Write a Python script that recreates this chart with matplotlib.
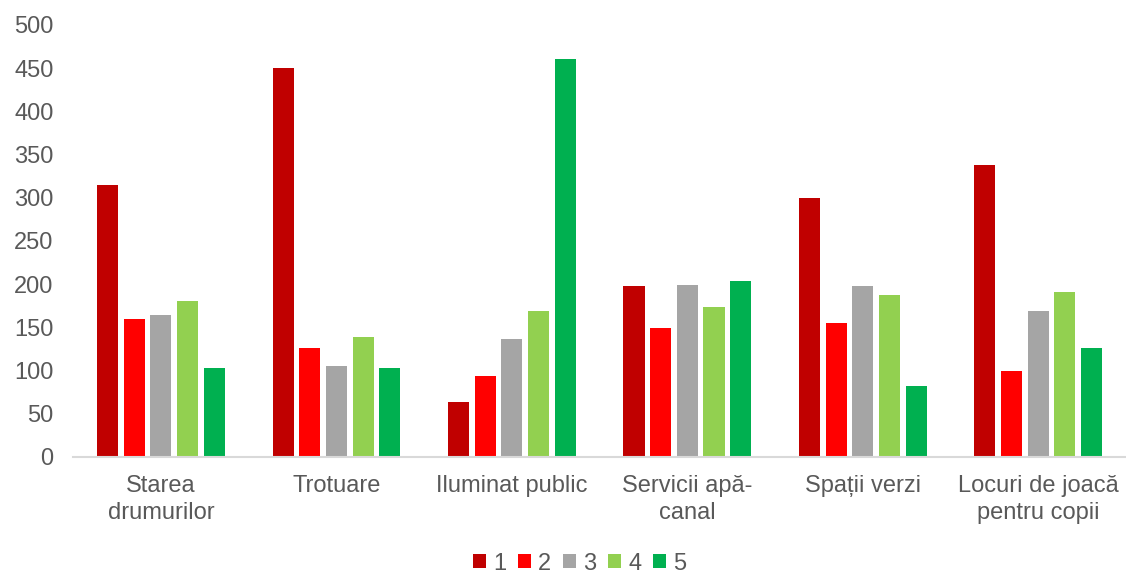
import matplotlib.pyplot as plt
import numpy as np

plt.rcParams['font.family'] = ['Liberation Sans', 'DejaVu Sans']

categories = ["Starea\ndrumurilor", "Trotuare", "Iluminat public",
              "Servicii apă-\ncanal", "Spații verzi", "Locuri de joacă\npentru copii"]
series_labels = ["1", "2", "3", "4", "5"]
s1 = [315, 450, 64, 198, 300, 338]
s2 = [160, 126, 94, 149, 155, 99]
s3 = [164, 105, 136, 199, 198, 169]
s4 = [180, 139, 169, 173, 188, 191]
s5 = [103, 103, 460, 204, 82, 126]
colors = ["#C00000", "#FF0000", "#A5A5A5", "#92D050", "#00B050"]

fig = plt.figure(figsize=(11.26, 5.73), dpi=100)
ax = fig.add_axes([0.065, 0.2025, 0.935, 0.754])

x = np.arange(len(categories))
pitch = 0.152
width = 0.12
for i, (vals, c) in enumerate(zip([s1, s2, s3, s4, s5], colors)):
    ax.bar(x + (i - 2) * pitch, vals, width, color=c, label=series_labels[i])

ax.set_xlim(-0.5, 5.5)
ax.set_ylim(0, 500)
ax.set_yticks(range(0, 501, 50))
ax.set_xticks(x)
ax.set_xticklabels(categories, linespacing=1.3)
ax.tick_params(axis='both', length=0, labelsize=17, labelcolor="#595959")
ax.tick_params(axis='x', pad=13)
ax.tick_params(axis='y', pad=14)
for sp in ["top", "right", "left"]:
    ax.spines[sp].set_visible(False)
ax.spines["bottom"].set_color("#D9D9D9")
ax.spines["bottom"].set_linewidth(1.5)

fig.legend(loc="lower center", bbox_to_anchor=(0.515, -0.04), ncol=5, frameon=False,
           fontsize=17, labelcolor="#595959", handlelength=0.55, handleheight=0.55,
           handletextpad=0.3, columnspacing=0.5)

fig.savefig("out.png", dpi=100)
